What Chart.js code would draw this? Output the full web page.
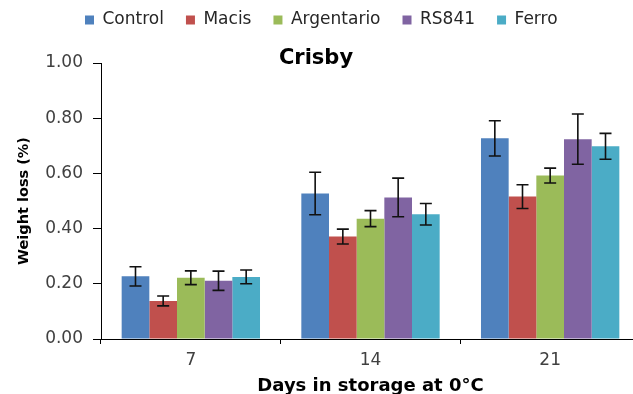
<!DOCTYPE html>
<html>
<head>
<meta charset="utf-8">
<title>Crisby</title>
<script src="https://cdn.jsdelivr.net/npm/chart.js@4.4.1/dist/chart.umd.min.js"></script>
<style>
  html, body { margin: 0; background: #fff; overflow: hidden; }
  /* the original plot runs a few pixels past the right edge of the picture */
  #wrap { width: 640px; height: 394px; position: relative; }
</style>
</head>
<body>
<div id="wrap"><canvas id="myChart"></canvas></div>
<script>
'use strict';
// days in storage
const days = ['7', '14', '21'];
const seriesNames = ['Control', 'Macis', 'Argentario', 'RS841', 'Ferro'];

// weight loss (%)
const control = [0.227, 0.527, 0.727];
const macis = [0.138, 0.371, 0.516];
const argentario = [0.222, 0.436, 0.592];
const rs841 = [0.211, 0.513, 0.724];
const ferro = [0.225, 0.452, 0.698];

// error bar half heights
const controlErr = [0.035, 0.077, 0.064];
const macisErr = [0.018, 0.027, 0.043];
const argentarioErr = [0.025, 0.029, 0.027];
const rs841Err = [0.035, 0.070, 0.091];
const ferroErr = [0.025, 0.039, 0.047];

const yTicks = [0, 0.2, 0.4, 0.6, 0.8, 1.0];
const chartTitle = 'Crisby';

const colors = ['#4F81BD', '#C0504D', '#9BBB59', '#8064A2', '#4BACC6'];
const values = [control, macis, argentario, rs841, ferro];
const errors = [controlErr, macisErr, argentarioErr, rs841Err, ferroErr];

let datasets = [];
for (let i = 0; i < seriesNames.length; i++) {
  datasets.push({
    label: seriesNames[i],
    data: values[i],
    errors: errors[i],
    backgroundColor: colors[i],
    borderWidth: 0
  });
}

// error bars drawn from the y scale
const errorBars = {
  id: 'errorBars',
  afterDatasetsDraw(chart) {
    const ctx = chart.ctx;
    const yScale = chart.scales.y;
    ctx.save();
    ctx.strokeStyle = '#111';
    ctx.lineWidth = 1.6;
    chart.data.datasets.forEach(function (ds, i) {
      const meta = chart.getDatasetMeta(i);
      meta.data.forEach(function (bar, j) {
        const top = yScale.getPixelForValue(ds.data[j] + ds.errors[j]);
        const bottom = yScale.getPixelForValue(ds.data[j] - ds.errors[j]);
        ctx.beginPath();
        ctx.moveTo(bar.x, top);
        ctx.lineTo(bar.x, bottom);
        ctx.moveTo(bar.x - 6, top);
        ctx.lineTo(bar.x + 6, top);
        ctx.moveTo(bar.x - 6, bottom);
        ctx.lineTo(bar.x + 6, bottom);
        ctx.stroke();
      });
    });
    ctx.restore();
  }
};

// title sits inside the top of the plot, like in the excel chart
const innerTitle = {
  id: 'innerTitle',
  afterDraw(chart) {
    const ctx = chart.ctx;
    ctx.save();
    ctx.font = 'bold 21px "DejaVu Sans"';
    ctx.fillStyle = '#000';
    ctx.textAlign = 'center';
    ctx.textBaseline = 'middle';
    ctx.fillText(chartTitle, 316, 59);
    ctx.restore();
  }
};

// move the legend row to where it is in the picture
const legendSpot = {
  id: 'legendSpot',
  afterLayout(chart) {
    chart.legend.left = 63;
    chart.legend.top = -10.5;
  }
};

const ctx = document.getElementById('myChart').getContext('2d');
const myChart = new Chart(ctx, {
  type: 'bar',
  data: {
    labels: days,
    datasets: datasets
  },
  plugins: [errorBars, innerTitle, legendSpot],
  options: {
    responsive: true,
    maintainAspectRatio: false,
    animation: false,
    categoryPercentage: 0.77,
    barPercentage: 1.0,
    layout: {
      padding: { top: 14, left: 0, right: 0, bottom: -3 }
    },
    plugins: {
      legend: {
        position: 'top',
        align: 'start',
        labels: {
          boxWidth: 9,
          boxHeight: 9,
          padding: 22,
          color: '#262626',
          font: { family: 'DejaVu Sans', size: 17 }
        }
      },
      tooltip: { enabled: false }
    },
    scales: {
      x: {
        grid: {
          drawOnChartArea: false,
          tickLength: 5,
          color: '#000'
        },
        border: { color: '#000', width: 1 },
        ticks: {
          padding: 6,
          color: '#404040',
          font: { family: 'DejaVu Sans', size: 17 }
        },
        title: {
          display: true,
          text: 'Days in storage at 0°C',
          color: '#000',
          padding: { top: 5, bottom: 0 },
          font: { family: 'DejaVu Sans', size: 18, weight: 'bold' }
        },
        afterFit(scale) {
          scale.height = 58;
        }
      },
      y: {
        min: 0,
        max: 1,
        afterBuildTicks(scale) {
          scale.ticks = yTicks.map(function (v) { return { value: v }; });
        },
        grid: {
          drawOnChartArea: false,
          tickLength: 8,
          color: '#000'
        },
        border: { color: '#000', width: 1 },
        ticks: {
          padding: 10,
          color: '#404040',
          font: { family: 'DejaVu Sans', size: 17 },
          callback: function (v) { return v.toFixed(2); }
        },
        title: {
          display: true,
          text: 'Weight loss (%)',
          color: '#000',
          padding: { top: 16, bottom: 12 },
          font: { family: 'DejaVu Sans', size: 14.5, weight: 'bold' }
        },
        afterFit(scale) {
          scale.width = 101;
        }
      }
    }
  }
});
</script>
</body>
</html>
